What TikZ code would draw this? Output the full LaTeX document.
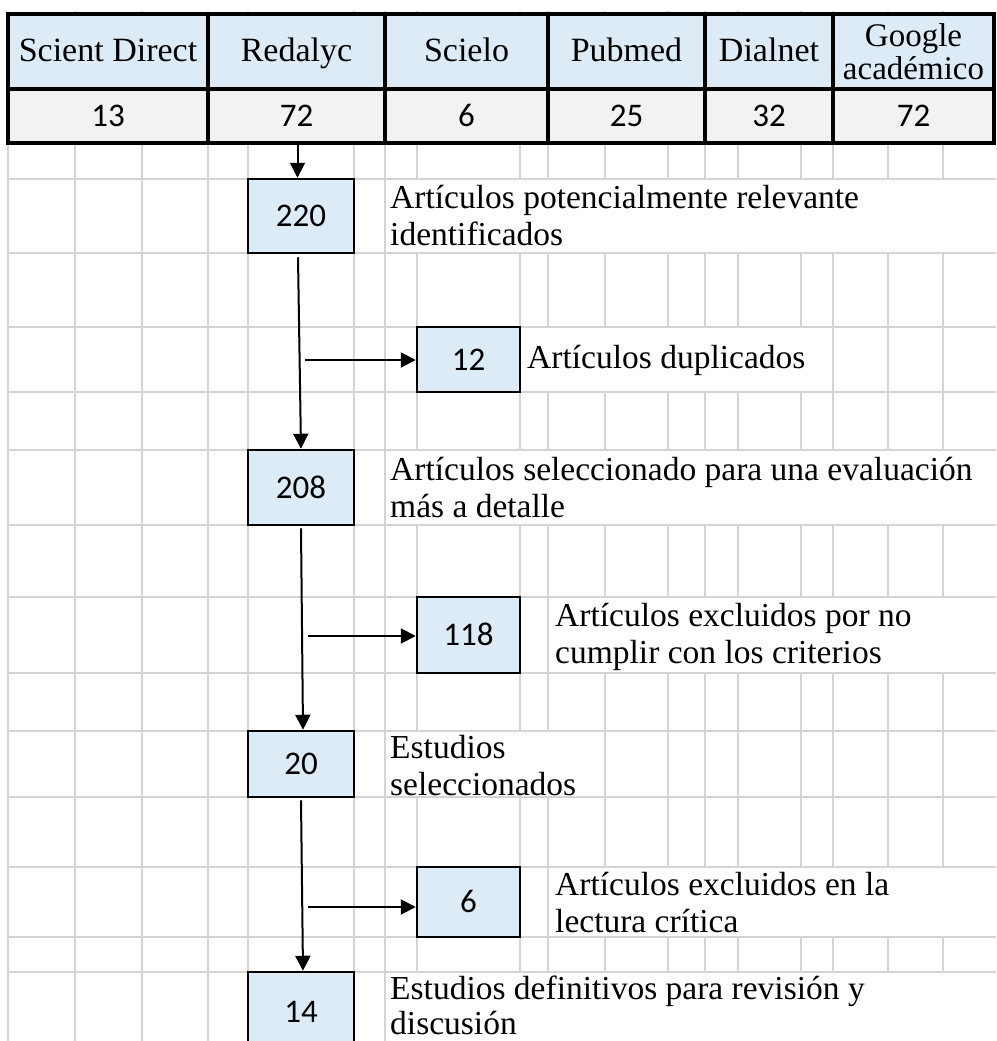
\documentclass[tikz,border=0pt]{standalone}
\usepackage{fontspec}
\setmainfont{Liberation Serif}
\newfontfamily\calib{Carlito}
\usetikzlibrary{arrows.meta,calc}
\definecolor{gridc}{HTML}{D4D4D4}
\definecolor{hdrblue}{HTML}{DDEBF7}
\definecolor{valgray}{HTML}{F2F2F2}
\tikzset{
  gridline/.style={draw=gridc,line width=2pt},
  whiteout/.style={fill=white,draw=none},
  hcell/.style={draw=black,line width=3.2pt,fill=hdrblue,inner sep=0pt,align=center,
    text height=20pt,text depth=0pt,
    font=\fontsize{34}{33}\selectfont},
  vcell/.style={draw=black,line width=3.2pt,fill=valgray,inner sep=0pt,
    text height=21pt,text depth=0pt,
    font=\calib\fontsize{33}{33}\selectfont},
  numbox/.style={draw=black,line width=2.5pt,fill=hdrblue,inner sep=0pt,
    text height=21pt,text depth=0pt,
    font=\calib\fontsize{33}{33}\selectfont},
  desc/.style={anchor=west,inner sep=0pt,align=left,
    font=\fontsize{33.5}{37}\selectfont},
  arr/.style={draw=black,line width=2pt,-{Triangle[length=15pt,width=15pt]}},
}
\begin{document}
\begin{tikzpicture}[x=1pt,y=-1pt]
\useasboundingbox (0,0) rectangle (996,1041);
\fill[white] (0,0) rectangle (996,1041);
% grid
\foreach \gx in {8,75,142,208,248,354,385,417,520,548,605,668,705,738,801,833,888,943}
  \draw[gridline] (\gx,11) -- (\gx,1041);
\foreach \gy in {179,253,327,392,450,525,597,673,731,797,867,937,972}
  \draw[gridline] (8,\gy) -- (996,\gy);
% merged text cells
\fill[whiteout] (386,180) rectangle (996,252);
\fill[whiteout] (521,328) rectangle (832,391);
\fill[whiteout] (386,451) rectangle (996,524);
\fill[whiteout] (549,598) rectangle (996,672);
\fill[whiteout] (386,732) rectangle (604,796);
\fill[whiteout] (549,868) rectangle (996,936);
\fill[whiteout] (386,973) rectangle (996,1041);
% table header
\node[hcell,minimum width=200,minimum height=75] (h1) at (108,51.5) {Scient Direct};
\node[hcell,minimum width=177,minimum height=75] (h2) at (296.5,51.5) {Redalyc};
\node[hcell,minimum width=163,minimum height=75] (h3) at (466.5,51.5) {Scielo};
\node[hcell,minimum width=157,minimum height=75] (h4) at (626.5,51.5) {Pubmed};
\node[hcell,minimum width=128,minimum height=75] (h5) at (769,51.5) {Dialnet};
\node[hcell,minimum width=161,minimum height=75,text height=,text depth=,
  font=\fontsize{33}{33}\selectfont] (h6) at (913.5,51.5) {Google\\académico};
% table values
\node[vcell,minimum width=200,minimum height=54] (v1) at (108,116) {13};
\node[vcell,minimum width=177,minimum height=54] (v2) at (296.5,116) {72};
\node[vcell,minimum width=163,minimum height=54] (v3) at (466.5,116) {6};
\node[vcell,minimum width=157,minimum height=54] (v4) at (626.5,116) {25};
\node[vcell,minimum width=128,minimum height=54] (v5) at (769,116) {32};
\node[vcell,minimum width=161,minimum height=54] (v6) at (913.5,116) {72};
% flow boxes
\node[numbox,minimum width=106,minimum height=74] (n220) at (301,216) {220};
\node[numbox,minimum width=103,minimum height=65] (n12) at (468.5,359.5) {12};
\node[numbox,minimum width=106,minimum height=75] (n208) at (301,487.5) {208};
\node[numbox,minimum width=103,minimum height=76] (n118) at (468.5,635) {118};
\node[numbox,minimum width=106,minimum height=66] (n20) at (301,764) {20};
\node[numbox,minimum width=103,minimum height=70] (n6) at (468.5,902) {6};
\clip (0,0) rectangle (996,1041);
\node[numbox,minimum width=106,minimum height=80] (n14) at (301,1012) {14};
% descriptions
\node[desc] (t220) at (390,216) {Artículos potencialmente relevante\\identificados};
\node[desc] (t12) at (527,360) {Artículos duplicados};
\node[desc] (t208) at (390,488) {Artículos seleccionado para una evaluación\\más a detalle};
\node[desc] (t118) at (555,637) {Artículos excluidos por no\\cumplir con los criterios};
\node[desc] (t20) at (390,766) {Estudios\\seleccionados};
\node[desc] (t6) at (555,903) {Artículos excluidos en la\\lectura crítica};
\node[desc,font=\fontsize{33.5}{35}\selectfont] (t14) at (390,1005) {Estudios definitivos para revisión y\\discusión};
% connectors
\draw[arr] ([xshift=1pt]v2.south) -- ([xshift=1pt]v2.south |- n220.north);
\draw[arr] ([xshift=-3pt,yshift=-3pt]n220.south) -- (n208.north);
\coordinate (s1) at (305,360);
\draw[arr] (s1) -- (s1 -| n12.west);
\draw[arr] ([yshift=-2pt]n208.south) -- ([xshift=2pt]n20.north);
\coordinate (s2) at (308,636);
\draw[arr] (s2) -- (s2 -| n118.west);
\draw[arr] ([yshift=-2pt]n20.south) -- ([xshift=2pt]n14.north);
\coordinate (s3) at (308,907);
\draw[arr] (s3) -- (s3 -| n6.west);
\end{tikzpicture}
\end{document}
